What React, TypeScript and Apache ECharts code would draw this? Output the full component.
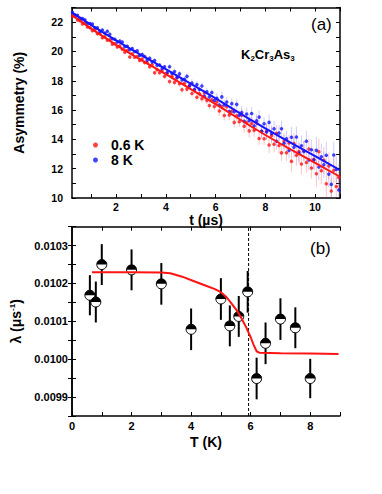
import React, { useEffect, useRef } from 'react';
import * as echarts from 'echarts';

// ---------- Panel (a): muSR asymmetry vs time ----------
const TIME_US = [
  0.25, 0.35, 0.45, 0.55, 0.65, 0.75, 0.85, 0.95, 1.05, 1.15,
  1.25, 1.35, 1.45, 1.55, 1.65, 1.75, 1.85, 1.95, 2.05, 2.15,
  2.25, 2.35, 2.45, 2.55, 2.65, 2.75, 2.85, 2.95, 3.05, 3.15,
  3.25, 3.35, 3.45, 3.55, 3.65, 3.75, 3.85, 3.95, 4.05, 4.15,
  4.25, 4.35, 4.45, 4.55, 4.65, 4.75, 4.85, 4.95, 5.05, 5.15,
  5.25, 5.35, 5.45, 5.55, 5.65, 5.75, 5.85, 5.95, 6.05, 6.15,
  6.25, 6.35, 6.45, 6.55, 6.65, 6.75, 6.85, 6.95, 7.05, 7.15,
  7.25, 7.35, 7.45, 7.55, 7.65, 7.75, 7.85, 7.95, 8.05, 8.15,
  8.25, 8.35, 8.45, 8.55, 8.65, 8.75, 8.85, 8.95, 9.05, 9.15,
  9.25, 9.35, 9.45, 9.55, 9.65, 9.75, 9.85, 9.95, 10.05, 10.15,
  10.25, 10.35, 10.45, 10.55, 10.65, 10.75, 10.85, 10.95,
];
const ASYM_06K = [
  22.41, 22.38, 22.15, 22.09, 21.88, 21.93, 21.67, 21.62, 21.42, 21.48,
  21.21, 21.23, 20.93, 21.01, 20.77, 20.8, 20.5, 20.53, 20.3, 20.38,
  20.15, 19.95, 20.06, 19.62, 19.84, 19.6, 19.65, 19.38, 19.48, 19.24,
  19.25, 18.95, 19.1, 18.55, 18.75, 18.55, 18.7, 18.3, 18.52, 17.95,
  18.3, 17.89, 18.24, 17.79, 17.39, 17.83, 17.43, 17.68, 17.13, 17.37,
  16.87, 17.12, 16.77, 17.16, 16.66, 16.31, 16.71, 16.25, 16.55, 15.94,
  16.24, 15.63, 16.23, 15.67, 15.92, 15.16, 15.61, 15.2, 15.65, 14.89,
  15.14, 14.58, 15.08, 14.62, 15.12, 14.06, 14.56, 14.05, 14.55, 13.61,
  14.26, 13.67, 14.42, 13.58, 13.08, 13.89, 13.09, 13.75, 12.5, 13.71,
  12.91, 13.17, 12.32, 13.23, 12.43, 13.34, 12.04, 12.65, 11.65, 13.16,
  11.86, 12.57, 10.97, 12.18, 10.48, 11.89, 10.79, 11.4,
];
const ASYM_8K = [
  22.68, 22.49, 22.47, 22.26, 22.24, 22.17, 21.92, 21.91, 21.87, 21.62,
  21.61, 21.37, 21.46, 21.26, 21.38, 21.17, 20.87, 20.83, 20.64, 20.71,
  20.65, 20.33, 20.36, 20.12, 20.2, 19.99, 20.04, 19.73, 19.79, 19.66,
  19.41, 19.53, 19.29, 19.39, 19.06, 19.08, 18.83, 18.95, 18.55, 18.95,
  18.5, 18.63, 18.2, 18.47, 18.05, 18.1, 18.3, 17.65, 17.85, 17.4,
  17.75, 17.4, 17.65, 16.95, 17.25, 16.9, 17.2, 16.65, 16.8, 16.35,
  16.9, 16.35, 16.55, 15.9, 16.44, 15.89, 16.39, 15.64, 15.83, 15.23,
  15.73, 15.28, 15.77, 14.92, 15.27, 15.52, 14.56, 15.06, 14.51, 15.16,
  14.41, 14.72, 13.87, 14.43, 14.73, 13.74, 14.04, 13.25, 14.15, 13.46,
  14.16, 13.07, 13.57, 13.18, 13.88, 12.59, 13.29, 12.6, 13.25, 12.11,
  12.81, 12.27, 12.92, 11.63, 10.93, 12.94, 11.94, 10.55,
];
// error bar half-length for each 1-µs interval (0-1, 1-2, ..., 10-11)
const ERR_PER_US = [0.08, 0.1, 0.12, 0.15, 0.2, 0.25, 0.35, 0.45, 0.55, 0.7, 0.9];
const FIT_T_US = [0.23, 2, 4, 6, 8, 10, 11];
const FIT_06K = [22.48, 20.45, 18.45, 16.4, 14.3, 12.4, 11.45];
const FIT_8K = [22.65, 20.75, 18.8, 16.8, 14.75, 12.85, 11.9];

// ---------- Panel (b): relaxation rate vs temperature ----------
const T_K = [0.6, 0.8, 1, 2, 3, 4, 5, 5.3, 5.6, 5.9, 6.2, 6.5, 7, 7.5, 8];
const LAMBDA = [0.010169, 0.010151, 0.01025, 0.010236, 0.010199, 0.010079, 0.010159, 0.010088, 0.010113, 0.010178, 0.009949, 0.010042, 0.010106, 0.010083, 0.009949];
const LAMBDA_ERR = [0.000053, 0.000054, 0.000054, 0.000054, 0.000055, 0.000055, 0.000055, 0.000054, 0.000054, 0.000055, 0.000055, 0.000055, 0.000055, 0.000054, 0.000052];
const FIT_T_K = [0.67, 1, 2, 3, 3.3, 3.7, 4.1, 4.5, 4.8, 5.0, 5.2, 5.4, 5.55, 5.7, 5.85, 6.0, 6.1, 6.2, 6.3, 7, 8, 8.95];
const FIT_LAMBDA = [0.01023, 0.01023, 0.01023, 0.010229, 0.010227, 0.010218, 0.010206, 0.010194, 0.010185, 0.010177, 0.010163, 0.010143, 0.010127, 0.010107, 0.010084, 0.010058, 0.010038, 0.010021, 0.010017, 0.010016, 0.010015, 0.010014];
const TC_K = 5.93;

const FONT = '"Liberation Sans", Arial, Helvetica, sans-serif';

const App: React.FC = () => {
  const ref = useRef<HTMLDivElement>(null);

  useEffect(() => {
    if (!ref.current) return;
    const chart = echarts.init(ref.current, undefined, { renderer: 'svg' });

    const errBar = (color: string) => (params: any, api: any) => {
      const x = api.value(0);
      const p1 = api.coord([x, api.value(1)]);
      const p2 = api.coord([x, api.value(2)]);
      return {
        type: 'line',
        shape: { x1: p1[0], y1: p1[1], x2: p2[0], y2: p2[1] },
        style: { stroke: color, lineWidth: 1 },
      };
    };
    const errData = (vals: number[]) =>
      TIME_US.map((t, i) => {
        const e = ERR_PER_US[Math.min(ERR_PER_US.length - 1, Math.floor(t))];
        return [t, vals[i] - e, vals[i] + e];
      });

    const axisLine = { show: true, lineStyle: { color: '#000', width: 1.5 } };
    const tick = { show: true, inside: true, length: 4, lineStyle: { color: '#000', width: 1 } };
    const evenInt = (v: number) => {
      const r = Math.round(v);
      return Math.abs(v - r) < 1e-6 && r % 2 === 0 ? String(r) : '';
    };
    const labelBase = { color: '#000', fontWeight: 'bold' as const, fontFamily: FONT };
    const nameBase = { color: '#000', fontWeight: 'bold' as const, fontFamily: FONT, fontSize: 14 };
    const mirrorX = (gridIndex: number, min: number, max: number, extra: any = {}) => ({
      type: 'value', gridIndex, position: 'top', min, max, ...extra,
      axisLine, axisTick: tick, axisLabel: { show: false }, splitLine: { show: false },
    });
    const mirrorY = (gridIndex: number, min: number, max: number, extra: any = {}) => ({
      type: 'value', gridIndex, position: 'right', min, max, ...extra,
      axisLine, axisTick: tick, axisLabel: { show: false }, splitLine: { show: false },
    });

    const option: any = {
      animation: false,
      backgroundColor: '#fff',
      textStyle: { fontFamily: FONT },
      grid: [
        { left: 72, top: 7.5, width: 268, height: 190.5 },
        { left: 72, top: 226.7, width: 268, height: 189.3 },
      ],
      legend: {
        left: 93, top: 138, orient: 'vertical', itemGap: 1,
        itemWidth: 5, itemHeight: 5, icon: 'circle', padding: 0,
        data: ['0.6 K', '8 K'],
        textStyle: { ...nameBase, fontSize: 14, padding: [0, 0, 0, 8] },
      },
      xAxis: [
        {
          type: 'value', gridIndex: 0, min: 0.23, max: 11, minInterval: 1, maxInterval: 1,
          axisLine, axisTick: tick, splitLine: { show: false },
          axisLabel: { ...labelBase, fontSize: 10.5, margin: 3, formatter: evenInt, showMinLabel: false },
          name: 't (µs)', nameLocation: 'middle', nameGap: 11, nameTextStyle: nameBase,
        },
        mirrorX(0, 0.23, 11, { minInterval: 1, maxInterval: 1 }),
        {
          type: 'value', gridIndex: 1, min: 0, max: 9, interval: 1,
          axisLine, axisTick: tick, splitLine: { show: false },
          axisLabel: { ...labelBase, fontSize: 11, margin: 4, formatter: evenInt },
          name: 'T (K)', nameLocation: 'middle', nameGap: 19, nameTextStyle: nameBase,
        },
        mirrorX(1, 0, 9, { interval: 1 }),
      ],
      yAxis: [
        {
          type: 'value', gridIndex: 0, min: 10, max: 23, interval: 1,
          axisLine, axisTick: tick, splitLine: { show: false },
          axisLabel: { ...labelBase, fontSize: 10.5, margin: 9, formatter: evenInt },
          name: 'Asymmetry (%)', nameLocation: 'middle', nameGap: 46, nameTextStyle: nameBase,
        },
        mirrorY(0, 10, 23, { interval: 1 }),
        {
          type: 'value', gridIndex: 1, min: 0.00985, max: 0.01035, minInterval: 0.00005, maxInterval: 0.00005,
          axisLine, axisTick: tick, splitLine: { show: false },
          axisLabel: {
            ...labelBase, fontSize: 11, margin: 4,
            formatter: (v: number) => {
              const s = v * 1e4;
              return Math.abs(s - Math.round(s)) < 1e-6 ? v.toFixed(4) : '';
            },
          },
          name: '{a|λ (μs}{s|-1}{a|)}', nameLocation: 'middle', nameGap: 48,
          nameTextStyle: {
            ...nameBase,
            rich: {
              a: { ...nameBase, fontSize: 14 },
              s: { ...nameBase, fontSize: 8, padding: [0, 0, 8, 0] },
            },
          },
        },
        mirrorY(1, 0.00985, 0.01035, { minInterval: 0.00005, maxInterval: 0.00005 }),
      ],
      series: [
        {
          type: 'custom', name: 'err06', xAxisIndex: 0, yAxisIndex: 0, clip: true,
          renderItem: errBar('rgba(255,60,60,0.3)'),
          encode: { x: 0, y: [1, 2] }, data: errData(ASYM_06K), z: 1,
        },
        {
          type: 'custom', name: 'err8', xAxisIndex: 0, yAxisIndex: 0, clip: true,
          renderItem: errBar('rgba(60,60,255,0.25)'),
          encode: { x: 0, y: [1, 2] }, data: errData(ASYM_8K), z: 1,
        },
        {
          type: 'scatter', name: '0.6 K', xAxisIndex: 0, yAxisIndex: 0,
          symbol: 'circle', symbolSize: 3.5, itemStyle: { color: '#ff1414' },
          data: TIME_US.map((t, i) => [t, ASYM_06K[i]]), z: 2,
        },
        {
          type: 'scatter', name: '8 K', xAxisIndex: 0, yAxisIndex: 0,
          symbol: 'circle', symbolSize: 3.5, itemStyle: { color: '#1414ff' },
          data: TIME_US.map((t, i) => [t, ASYM_8K[i]]), z: 2,
        },
        {
          type: 'line', name: 'fit06', xAxisIndex: 0, yAxisIndex: 0, smooth: true,
          showSymbol: false, symbol: 'none', lineStyle: { color: '#ff1414', width: 2 },
          data: FIT_T_US.map((t, i) => [t, FIT_06K[i]]), z: 3,
        },
        {
          type: 'line', name: 'fit8', xAxisIndex: 0, yAxisIndex: 0, smooth: true,
          showSymbol: false, symbol: 'none', lineStyle: { color: '#1414ff', width: 2 },
          data: FIT_T_US.map((t, i) => [t, FIT_8K[i]]), z: 3,
        },
        {
          type: 'line', name: 'Tc', xAxisIndex: 2, yAxisIndex: 2,
          symbol: 'none', lineStyle: { color: '#000', width: 1, type: [3, 2] },
          data: [[TC_K, 0.00985], [TC_K, 0.01035]], z: 1,
        },
        {
          type: 'custom', name: 'lambda', xAxisIndex: 2, yAxisIndex: 2,
          encode: { x: 0, y: 1 },
          data: T_K.map((t, i) => [t, LAMBDA[i], LAMBDA_ERR[i]]),
          renderItem: (params: any, api: any) => {
            const x = api.value(0);
            const y = api.value(1);
            const e = api.value(2);
            const c = api.coord([x, y]);
            const lo = api.coord([x, y - e]);
            const hi = api.coord([x, y + e]);
            return {
              type: 'group',
              children: [
                { type: 'line', shape: { x1: lo[0], y1: lo[1], x2: hi[0], y2: hi[1] }, style: { stroke: '#000', lineWidth: 2 } },
                { type: 'circle', shape: { cx: c[0], cy: c[1], r: 5 }, style: { fill: '#fff', stroke: '#000', lineWidth: 1 } },
                { type: 'sector', shape: { cx: c[0], cy: c[1], r0: 0, r: 5, startAngle: Math.PI, endAngle: Math.PI * 2, clockwise: true }, style: { fill: '#000' } },
              ],
            };
          },
          z: 2,
        },
        {
          type: 'line', name: 'fitLambda', xAxisIndex: 2, yAxisIndex: 2,
          symbol: 'none', showSymbol: false, lineStyle: { color: '#ff1414', width: 2 },
          data: FIT_T_K.map((t, i) => [t, FIT_LAMBDA[i]]), z: 3,
        },
      ],
      graphic: [
        { type: 'text', left: 311, top: 16, style: { text: '(a)', fontSize: 17, fontFamily: FONT, fill: '#000' } },
        {
          type: 'text', left: 241, top: 48,
          style: {
            text: 'K{s|2}Cr{s|3}As{s|3}', fontSize: 13, fontWeight: 'bold', fontFamily: FONT, fill: '#000',
            rich: { s: { fontSize: 8, fontWeight: 'bold', fontFamily: FONT, fill: '#000', padding: [7, 0, 0, 0] } },
          },
        },
        { type: 'text', left: 310, top: 240, style: { text: '(b)', fontSize: 17, fontFamily: FONT, fill: '#000' } },
      ],
    };

    chart.setOption(option);
    return () => chart.dispose();
  }, []);

  return (
    <div
      ref={ref}
      style={{ position: 'fixed', left: 0, top: 0, width: 382, height: 494, background: '#fff' }}
    />
  );
};

export default App;
